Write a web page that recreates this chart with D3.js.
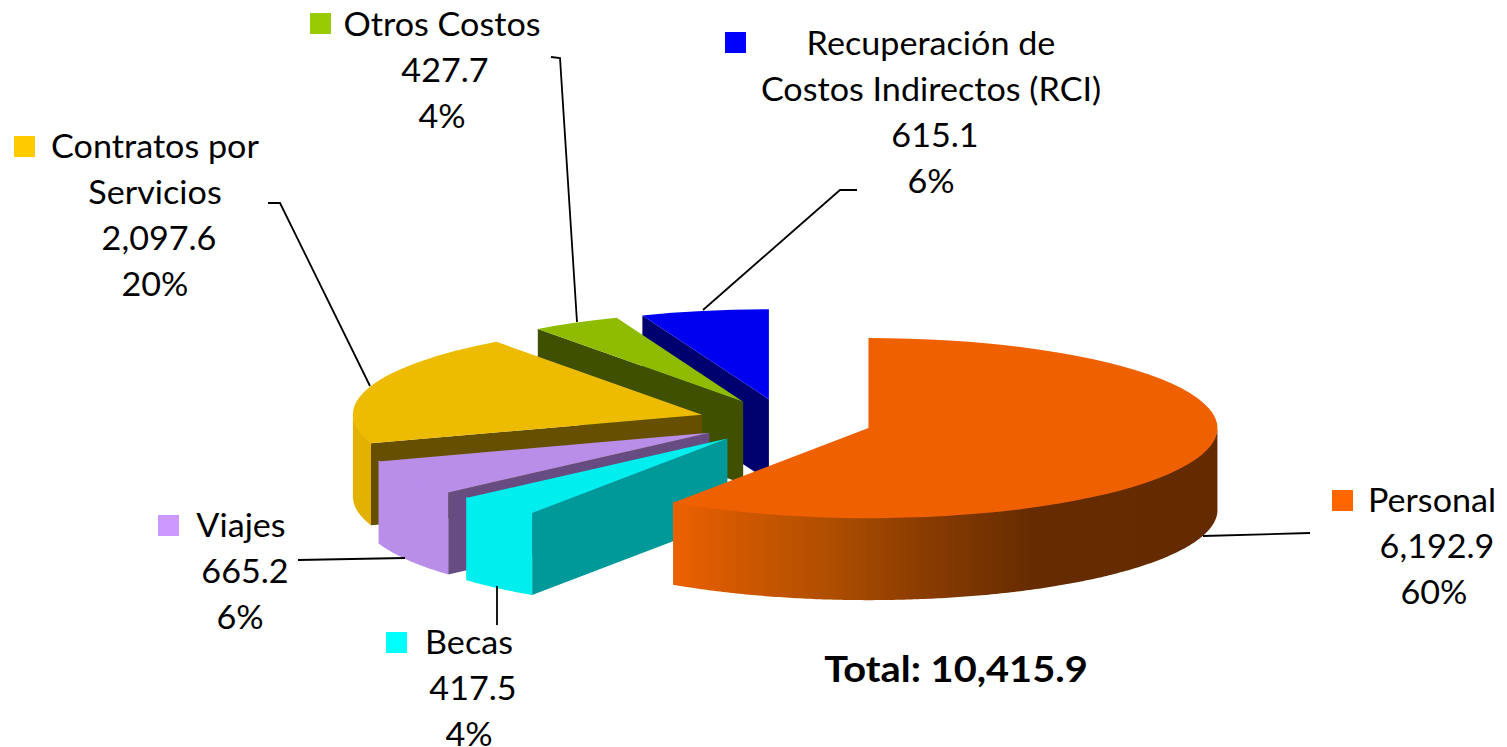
<!DOCTYPE html>
<html>
<head>
<meta charset="utf-8">
<script src="https://cdn.jsdelivr.net/npm/d3@7"></script>
<style>
  html, body { margin: 0; padding: 0; background: #fff; overflow: hidden; }
  text { font-family: Lato, "Open Sans", sans-serif; fill: #000; }
</style>
</head>
<body>
<svg id="chart"></svg>
<script>
// Data
const categories = ["Personal", "Becas", "Viajes", "Contratos por Servicios", "Otros Costos", "Recuperación de Costos Indirectos (RCI)"];
const values     = [6192.9, 417.5, 665.2, 2097.6, 427.7, 615.1];
const percents   = ["60%", "4%", "6%", "20%", "4%", "6%"];
const totalLabel = "Total: 10,415.9";

// Colours, same order as the categories
const topColors    = ["#EF6100", "#00EEEE", "#B98EE9", "#EDBB00", "#8FBC00", "#0000F0"];
const outerColors  = ["url(#personalWall)", "#00EEEE", "#B98EE9", "#E3B200", "#8FBC00", "#0000F0"];
const cutColors    = ["#B84E00", "#009999", "#664C80", "#665000", "#3F5000", "#00006E"];
const legendColors = ["#FF6600", "#00FFFF", "#CC99FF", "#FFCC00", "#99CC00", "#0000FF"];

// Label layout: marker corner, text centre and first baseline, leader line
const labelLayout = [
  { marker: [1332, 490], name: [["Personal", 1432]], value: 1437, pct: 1434, y: 512, leader: [[1310, 533], [1203, 536]] },
  { marker: [386, 632],  name: [["Becas", 469]],     value: 473,  pct: 469,  y: 654, leader: [[497, 586], [497, 625]] },
  { marker: [158, 515],  name: [["Viajes", 241]],    value: 245,  pct: 240,  y: 537, leader: [[298, 560], [405, 558]] },
  { marker: [14, 136],   name: [["Contratos por", 155], ["Servicios", 155]], value: 159, pct: 155, y: 158, leader: [[268, 203], [280, 203], [370, 386]] },
  { marker: [310, 13],   name: [["Otros Costos", 442]], value: 445, pct: 442, y: 36, leader: [[551, 57], [560, 58], [577, 322]] },
  { marker: [725, 32],   name: [["Recuperación de", 931], ["Costos Indirectos (RCI)", 931]], value: 935, pct: 931, y: 55, leader: [[857, 190], [840, 190], [703, 310]] }
];

// =====================================================
// Plot setup
// =====================================================
const width   = 1507;
const height  = 747;
const center  = { x: 785, y: 421.5 };
const radius  = 349;
const tilt    = 0.258;  // squash of the circle into an ellipse
const depth   = 82;     // height of the pie wall
const explode = 0.25;   // every slice is pulled out by this part of the radius
const lineGap = 46;

const svg = d3.select("#chart").attr("width", width).attr("height", height);

const gradient = svg.append("defs").append("linearGradient")
  .attr("id", "personalWall")
  .attr("gradientUnits", "userSpaceOnUse")
  .attr("x1", 672).attr("x2", 1217).attr("y1", 0).attr("y2", 0);
[[0, "#EC6100"], [0.1, "#D65900"], [0.28, "#B04F00"], [0.46, "#8A3C00"], [0.66, "#662C00"], [1, "#642B00"]]
  .forEach(([o, c]) => gradient.append("stop").attr("offset", o).attr("stop-color", c));

const slices = d3.pie().sort(null).value(d => d)(values);
slices.forEach((s, i) => { s.index = i; });

const arc  = d3.arc().innerRadius(0).outerRadius(radius);
const line = d3.line();

/** Point on the tilted pie of a slice, a = angle, r = radius */
const project = (c, a, r) => {
  const [x, y] = d3.pointRadial(a, r);
  return [c.x + x, c.y + y * tilt];
};

/** Centre of a slice after it has been pulled out along its mid angle */
const sliceCenter = s => project(center, (s.startAngle + s.endAngle) / 2, radius * explode);

// ----------
// Slices, back to front
// =================
const order = slices.slice().reverse();

order.forEach(s => {
  const [cx, cy] = sliceCenter(s);
  const c = { x: cx, y: cy };
  const g = svg.append("g");

  // Cut wall on the start edge, only when it faces the viewer
  if (s.startAngle > Math.PI) {
    const p = project(c, s.startAngle, radius);
    g.append("path")
      .attr("fill", cutColors[s.index])
      .attr("d", line([[cx, cy], p, [p[0], p[1] + depth], [cx, cy + depth]]) + "Z");
  }

  // Outer wall, only the front half of the ellipse.
  // Starts 1px higher and runs under the top face so no seam shows on same coloured slices
  const a0 = Math.max(s.startAngle, Math.PI / 2);
  const a1 = Math.min(s.endAngle, Math.PI * 1.5);
  if (a1 > a0) {
    const angles = d3.range(a0, a1, 0.01).concat([a1]);
    const wall = d3.area()
      .x(a => project(c, a, radius)[0])
      .y0(a => project(c, a, radius)[1] - 1)
      .y1(a => project(c, a, radius)[1] + depth);
    g.append("path").attr("fill", outerColors[s.index]).attr("d", wall(angles));
  }

  // Top face
  g.append("path")
    .attr("fill", topColors[s.index])
    .attr("transform", `translate(${cx}, ${cy}) scale(1, ${tilt})`)
    .attr("d", arc(s));
});

// ----------
// Labels
// =================
const fontSize = 33;
const stretch  = 1.035; // Lato is a bit narrower than the original face

const addText = (label, x, y, size, sx) => svg.append("text")
  .attr("transform", `translate(${x}, ${y}) scale(${sx}, 1)`)
  .attr("text-anchor", "middle")
  .attr("font-size", size)
  .text(label);

labelLayout.forEach((l, i) => {
  svg.append("path")
    .attr("fill", "none")
    .attr("stroke", "#000")
    .attr("stroke-width", 1.8)
    .attr("d", line(l.leader));

  svg.append("rect")
    .attr("x", l.marker[0]).attr("y", l.marker[1])
    .attr("width", 21).attr("height", 21)
    .attr("fill", legendColors[i]);

  const rows = l.name.concat([[d3.format(",.1f")(values[i]), l.value], [percents[i], l.pct]]);
  rows.forEach(([label, x], r) => addText(label, x, l.y + r * lineGap, fontSize, stretch));
});

addText(totalLabel, 956, 682, 36, 1.105).attr("font-weight", 700);
</script>
</body>
</html>
